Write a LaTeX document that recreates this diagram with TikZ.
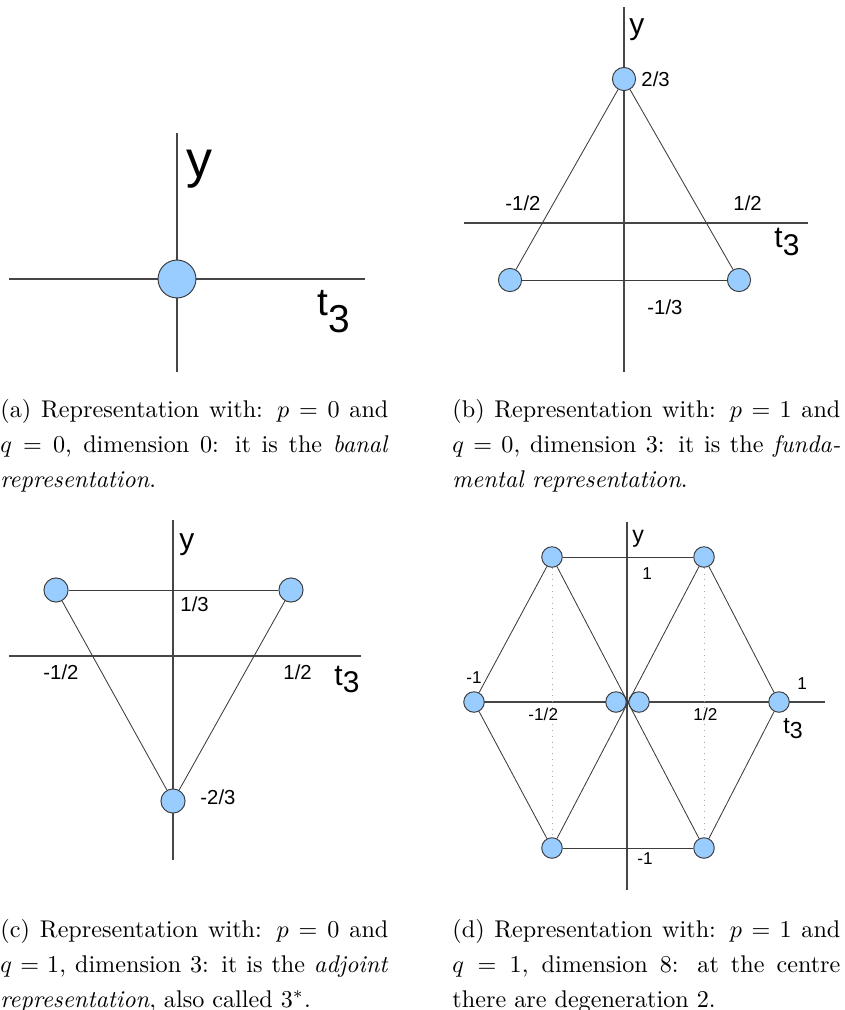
\documentclass[tikz,border=0pt]{standalone}
\usepackage{fontspec}
\newfontfamily\labfont{Liberation Sans}
\definecolor{wtblue}{RGB}{153,204,255}
\definecolor{wtedge}{RGB}{60,60,60}
\definecolor{wtaxis}{RGB}{70,70,70}
\definecolor{wtdots}{RGB}{165,165,165}
\newcommand{\tthree}[1]{t\raisebox{-#1}{3}}

\begin{document}
\begin{tikzpicture}[x=0.414pt, y=-0.414pt,
  every node/.style={inner sep=0pt},
  wt/.style={circle, draw=wtedge, fill=wtblue, line width=0.4pt, inner sep=0pt},
  axis/.style={wtaxis, line width=0.6pt},
  edge/.style={wtedge, line width=0.35pt},
  guide/.style={wtdots, dotted, line width=0.4pt},
  labB/.style={font=\labfont\fontsize{8.4}{9}\selectfont, anchor=west},
  labD/.style={font=\labfont\fontsize{7.1}{8}\selectfont, anchor=west},
  axlab/.style={font=\labfont\fontsize{12.4}{13}\selectfont, anchor=base west},
  captext/.style={anchor=base west, text width=160.6pt, align=justify,
              font=\fontsize{10}{14.5}\selectfont},
]
\useasboundingbox (0,0) rectangle (845,1010);

% === Axes (drawn first, weights sit on top) ===
\coordinate (aN) at (177,133); \coordinate (aS) at (177,372);
\coordinate (aW) at (9,279);   \coordinate (aE) at (365,279);
\coordinate (bN) at (624,7);   \coordinate (bS) at (624,372);
\coordinate (bW) at (464,223); \coordinate (bE) at (808,223);
\coordinate (cN) at (173,520); \coordinate (cS) at (173,860);
\coordinate (cW) at (9,656);   \coordinate (cE) at (361,656);
\coordinate (dN) at (627,522); \coordinate (dS) at (627,890);
\coordinate (dW) at (474,702); \coordinate (dE) at (825,702);
\foreach \p in {a,b,c,d} {
  \draw[axis] (\p N) -- (\p S);
  \draw[axis] (\p W) -- (\p E);
}

% === (a) banal representation ===
\node[wt, minimum size=15.7pt] (a0) at (177,279) {};
\node[axlab, font=\labfont\fontsize{21.5}{22}\selectfont] (ay) at (186,177) {y};
\node[axlab, font=\labfont\fontsize{16.1}{17}\selectfont] (at) at (317,315) {\tthree{0.46em}};

% === (b) fundamental representation ===
\node[wt, minimum size=9.6pt] (btop) at (624,79) {};
\node[wt, minimum size=9.6pt] (bleft) at (510,280) {};
\node[wt, minimum size=9.6pt] (bright) at (739,280) {};
\draw[edge] (btop) -- (bleft);
\draw[edge] (btop) -- (bright);
\draw[edge] (bleft) -- (bright);
\node[axlab] (by) at (629,34) {y};
\node[axlab] (bt) at (774,247) {\tthree{0.27em}};
\node[labB] (b23) at (641,79) {2/3};
\node[labB] (bm12) at (505,203) {-1/2};
\node[labB] (b12) at (733,203) {1/2};
\node[labB] (bm13) at (647,307) {-1/3};

% === (c) adjoint representation ===
\node[wt, minimum size=10pt] (cleft) at (56,590) {};
\node[wt, minimum size=10pt] (cright) at (291,590) {};
\node[wt, minimum size=10pt] (cbot) at (173,801) {};
\draw[edge] (cleft) -- (cright);
\draw[edge] (cleft) -- (cbot);
\draw[edge] (cright) -- (cbot);
\node[axlab] (cy) at (179,549) {y};
\node[axlab] (ct) at (334,685) {\tthree{0.25em}};
\node[labB] (c13) at (180,604) {1/3};
\node[labB] (cm12) at (43,672) {-1/2};
\node[labB] (c12) at (283,672) {1/2};
\node[labB] (cm23) at (200,797) {-2/3};

% === (d) octet ===
\foreach \n/\x/\y in {dtl/552/557, dtr/704/557, dl/474/702, dcl/616/702,
                      dcr/639/702, dr/779/702, dbl/552/848, dbr/704/848}
  \node[wt, minimum size=8.5pt] (\n) at (\x,\y) {};
\draw[guide] (dtl) -- (dbl);
\draw[guide] (dtr) -- (dbr);
\draw[edge] (dtl) -- (dtr);
\draw[edge] (dbl) -- (dbr);
\draw[edge] (dtl) -- (dl) -- (dbl);
\draw[edge] (dtr) -- (dr) -- (dbr);
\draw[edge] (dtl) -- (dbr);
\draw[edge] (dtr) -- (dbl);
\node[axlab, font=\labfont\fontsize{9.6}{10}\selectfont] (dy) at (632,542) {y};
\node[axlab, font=\labfont\fontsize{9.6}{10}\selectfont] (dt) at (783,733) {\tthree{0.25em}};
\node[labD] (d1) at (642,574) {1};
\node[labD] (dm1) at (466,678) {-1};
\node[labD] (dm12) at (528,714) {-1/2};
\node[labD] (d12) at (693,714) {1/2};
\node[labD] (d1r) at (797,684) {1};
\node[labD] (dm1b) at (637,859) {-1};

% === Captions ===
\node[captext] (capa) at (0,417) {(a) Representation with: $p=0$ and\linebreak
  $q=0$, dimension 0: it is the \emph{banal}\linebreak \emph{representation}.};
\node[captext] (capb) at (452,417) {(b) Representation with: $p=1$ and\linebreak
  $q=0$, dimension 3: it is the \emph{funda-}\linebreak\emph{mental representation}.};
\node[captext] (capc) at (0,937) {(c) Representation with: $p=0$ and\linebreak
  $q=1$, dimension 3: it is the \emph{adjoint}\linebreak \emph{representation}, also called $3^*$.};
\node[captext] (capd) at (452,937) {(d) Representation with: $p=1$ and\linebreak
  $q=1$, dimension 8: at the centre\linebreak there are degeneration 2.};

\end{tikzpicture}
\end{document}
